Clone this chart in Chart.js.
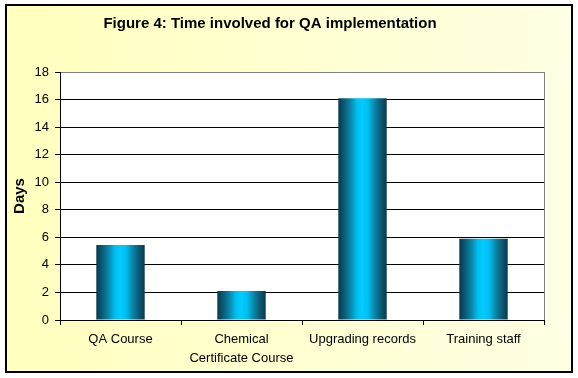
<!DOCTYPE html>
<html>
<head>
<meta charset="utf-8">
<script src="https://cdn.jsdelivr.net/npm/chart.js@4/dist/chart.umd.min.js"></script>
<style>
    html, body { margin: 0; padding: 0; background: #fff; }
    canvas { display: block; }
</style>
</head>
<body>
<canvas id="qaTimeChart" width="578" height="378"></canvas>
<script>
const categories = ['QA Course', ['Chemical', 'Certificate Course'], 'Upgrading records', 'Training staff'];
const days = [5.45, 2.1, 16.1, 5.9];
const yTicks = [0, 2, 4, 6, 8, 10, 12, 14, 16, 18];

const chartTitle = 'Figure 4: Time involved for QA implementation';
const fontFamily = "Arial, 'Liberation Sans', sans-serif";
const barPct = 0.4;

// pale yellow panel, black frame, white plot area
const panelPlugin = {
    id: 'panel',
    beforeDraw: function (chart) {
        const ctx = chart.ctx;
        const area = chart.chartArea;
        ctx.save();
        ctx.fillStyle = '#fff';
        ctx.fillRect(0, 0, chart.width, chart.height);
        const bg = ctx.createLinearGradient(6, 0, 572, 0);
        bg.addColorStop(0, '#ffffbe');
        bg.addColorStop(1, '#ffffe4');
        ctx.fillStyle = bg;
        ctx.fillRect(6, 5, 566, 367);
        ctx.lineWidth = 2;
        ctx.strokeStyle = '#000';
        ctx.strokeRect(6, 5, 566, 367);
        ctx.fillStyle = '#fff';
        ctx.fillRect(area.left, area.top, area.right - area.left, area.bottom - area.top);
        ctx.restore();
    },
    afterDraw: function (chart) {
        const ctx = chart.ctx;
        const area = chart.chartArea;
        ctx.save();
        ctx.strokeStyle = '#808080';
        ctx.lineWidth = 1;
        ctx.beginPath();
        ctx.moveTo(area.right + 0.5, area.top);
        ctx.lineTo(area.right + 0.5, area.bottom);
        ctx.stroke();

        ctx.fillStyle = '#000';
        ctx.font = 'bold 15px ' + fontFamily;
        ctx.textAlign = 'center';
        ctx.textBaseline = 'alphabetic';
        ctx.fillText(chartTitle, 270, 28);
        ctx.restore();
    }
};

function barGradient(context) {
    const chart = context.chart;
    if (!chart.chartArea || context.dataIndex === undefined) {
        return '#00ccff';
    }
    const xScale = chart.scales.x;
    const cx = xScale.getPixelForValue(context.dataIndex);
    const half = xScale.width / categories.length * barPct / 2;
    const g = chart.ctx.createLinearGradient(cx - half, 0, cx + half, 0);
    g.addColorStop(0, '#073a4e');
    g.addColorStop(0.12, '#0b5a74');
    g.addColorStop(0.25, '#0a86a8');
    g.addColorStop(0.38, '#00bdee');
    g.addColorStop(0.5, '#00ccff');
    g.addColorStop(0.62, '#00bdee');
    g.addColorStop(0.75, '#0a86a8');
    g.addColorStop(0.88, '#0b5a74');
    g.addColorStop(1, '#073a4e');
    return g;
}

const chartCtx = document.getElementById('qaTimeChart').getContext('2d');
new Chart(chartCtx, {
    type: 'bar',
    data: {
        labels: categories,
        datasets: [{
            label: 'Days',
            data: days,
            backgroundColor: barGradient,
            borderWidth: 0,
            categoryPercentage: 1,
            barPercentage: barPct
        }]
    },
    options: {
        responsive: false,
        animation: false,
        layout: {
            padding: { left: 6, right: 34, top: 72, bottom: 6 }
        },
        plugins: {
            legend: { display: false },
            tooltip: { enabled: false },
            title: { display: false }
        },
        scales: {
            x: {
                afterFit: function (scale) { scale.height = 52; },
                border: { color: '#000', width: 1 },
                grid: {
                    offset: true,
                    drawOnChartArea: false,
                    drawTicks: true,
                    tickLength: 5,
                    color: '#000',
                    tickColor: '#000'
                },
                ticks: {
                    color: '#000',
                    padding: 5,
                    maxRotation: 0,
                    autoSkip: false,
                    font: { family: fontFamily, size: 13, lineHeight: 1.45 }
                }
            },
            y: {
                min: 0,
                max: 18,
                afterFit: function (scale) { scale.width = 54; },
                afterBuildTicks: function (scale) {
                    scale.ticks = yTicks.map(function (v) { return { value: v }; });
                },
                border: { color: '#000', width: 1 },
                grid: {
                    color: function (c) { return c.tick && c.tick.value === 18 ? '#808080' : '#000'; },
                    tickColor: '#000',
                    tickLength: 5,
                    lineWidth: 1
                },
                ticks: {
                    color: '#000',
                    padding: 6,
                    font: { family: fontFamily, size: 13 }
                },
                title: {
                    display: true,
                    text: 'Days',
                    color: '#000',
                    padding: { top: 5, bottom: 0 },
                    font: { family: fontFamily, size: 15, weight: 'bold' }
                }
            }
        }
    },
    plugins: [panelPlugin]
});
</script>
</body>
</html>
